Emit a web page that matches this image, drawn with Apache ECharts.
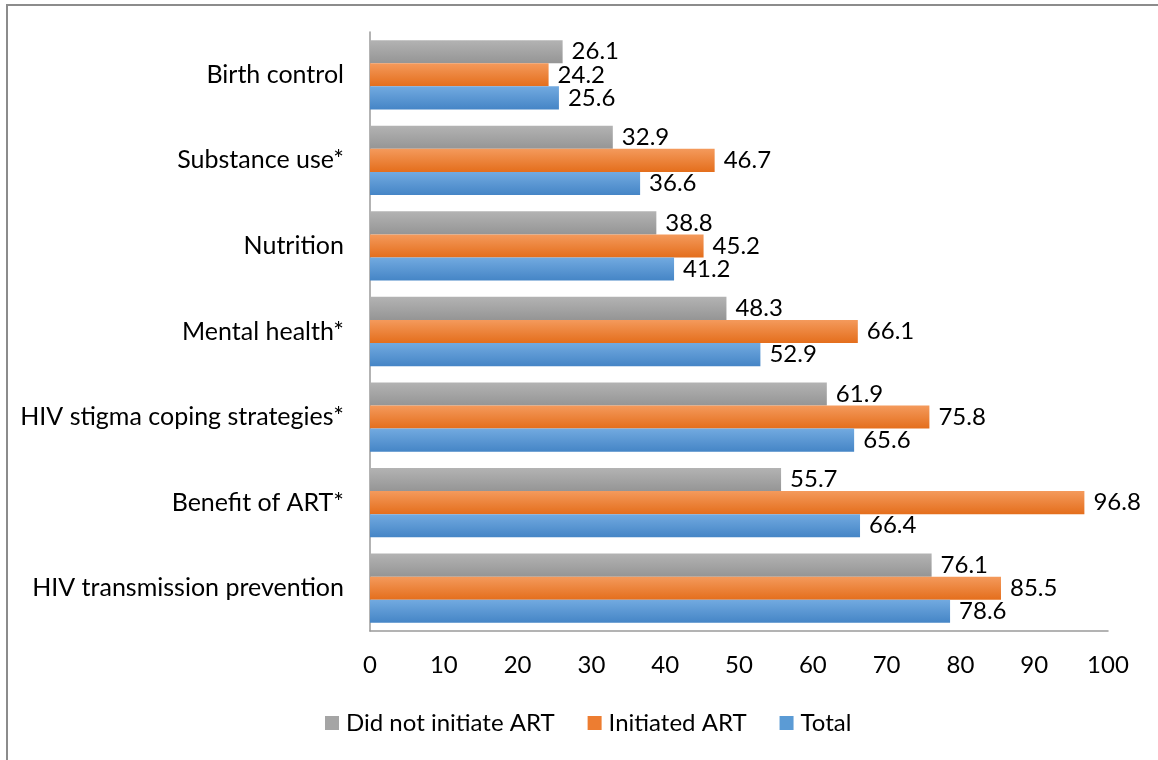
<!DOCTYPE html>
<html>
<head>
<meta charset="utf-8">
<script src="https://cdn.jsdelivr.net/npm/echarts@6/dist/echarts.min.js"></script>
<style>
  html, body { margin: 0; padding: 0; background: #fff; }
  #frame { position: absolute; left: 6px; top: 4px; width: 1160px; height: 770px; border: 2px solid #8c8c8c; box-sizing: border-box; }
  #chart { position: absolute; left: 0; top: 0; width: 1158px; height: 760px; }
</style>
</head>
<body>
<div id="frame"></div>
<div id="chart"></div>
<script>
// Topics discussed, top to bottom
const categories = [
  'Birth control',
  'Substance use*',
  'Nutrition',
  'Mental health*',
  'HIV stigma coping strategies*',
  'Benefit of ART*',
  'HIV transmission prevention'
];
const seriesNames = ['Did not initiate ART', 'Initiated ART', 'Total'];
const didNotInitiate = [26.1, 32.9, 38.8, 48.3, 61.9, 55.7, 76.1];
const initiated = [24.2, 46.7, 45.2, 66.1, 75.8, 96.8, 85.5];
const total = [25.6, 36.6, 41.2, 52.9, 65.6, 66.4, 78.6];
const xTicks = [0, 10, 20, 30, 40, 50, 60, 70, 80, 90, 100];

const FONT = 'Lato, "Open Sans", sans-serif';

function grad(top, bottom) {
  return new echarts.graphic.LinearGradient(0, 0, 0, 1, [
    { offset: 0, color: top },
    { offset: 1, color: bottom }
  ]);
}

const fills = [
  grad('#b3b3b3', '#959595'),
  grad('#f49a5c', '#e46e1c'),
  grad('#72aae0', '#4585c6')
];
const legendColors = ['#a5a5a5', '#ed7d31', '#5b9bd5'];

const chart = echarts.init(document.getElementById('chart'), null, { renderer: 'canvas' });

const seriesData = [didNotInitiate, initiated, total];

chart.setOption({
  animation: false,
  textStyle: { fontFamily: FONT },
  grid: { left: 370, right: 50, top: 32, bottom: 129, containLabel: false },
  legend: {
    bottom: 20,
    left: 320,
    itemWidth: 14,
    itemHeight: 14,
    itemGap: 33,
    icon: 'rect',
    textStyle: { fontFamily: FONT, fontSize: 24, color: '#000', padding: [0, 0, 0, 2] },
    data: seriesNames.map((n, i) => ({ name: n, itemStyle: { color: legendColors[i] } }))
  },
  xAxis: {
    type: 'value',
    min: xTicks[0],
    max: xTicks[xTicks.length - 1],
    interval: 10,
    axisLine: { show: true, lineStyle: { color: '#9a9a9a', width: 1.5 } },
    axisTick: { show: false },
    splitLine: { show: false },
    axisLabel: { fontFamily: FONT, fontSize: 24, color: '#000', margin: 22 }
  },
  yAxis: {
    type: 'category',
    inverse: true,
    data: categories,
    axisLine: { show: true, lineStyle: { color: '#9a9a9a', width: 1.5 } },
    axisTick: { show: false },
    axisLabel: { fontFamily: FONT, fontSize: 25, color: '#000', margin: 26 }
  },
  series: seriesNames.map((name, i) => ({
    name,
    type: 'bar',
    data: seriesData[i],
    barGap: '0%',
    barCategoryGap: '19%',
    itemStyle: { color: fills[i] },
    label: {
      show: true,
      position: 'right',
      distance: 9,
      fontFamily: FONT,
      fontSize: 24,
      color: '#000',
      formatter: p => p.value.toFixed(1)
    }
  }))
});
</script>
</body>
</html>
